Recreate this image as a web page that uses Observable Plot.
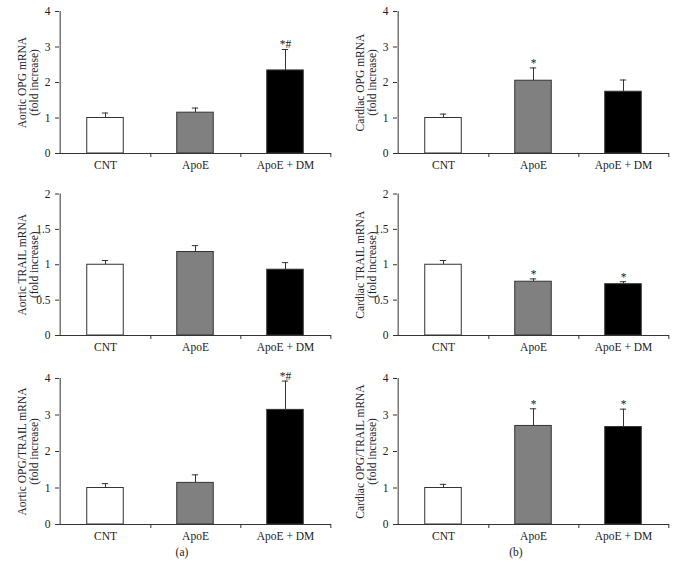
<!DOCTYPE html>
<html>
<head>
<meta charset="utf-8">
<script src="https://cdn.jsdelivr.net/npm/d3@7"></script>
<script src="https://cdn.jsdelivr.net/npm/@observablehq/plot@0.6"></script>
<style>
  body { margin: 0; background: #fff; }
  #wrap { position: relative; width: 676px; height: 580px; font-family: "Liberation Serif", "Times New Roman", serif; }
  #wrap > div.panel { position: absolute; }
  .cap { position: absolute; font-size: 11.5px; color: #222; transform: translateX(-50%); }
</style>
</head>
<body>
<div id="wrap"></div>
<script>
// ---- data ----
const categories = ["CNT", "ApoE", "ApoE + DM"];
const groupFill = ["#ffffff", "#808080", "#000000"];

const aorticOPG = [1.00, 1.15, 2.34];
const aorticOPGErr = [0.14, 0.13, 0.59];
const aorticOPGSig = ["", "", "*#"];

const cardiacOPG = [1.00, 2.05, 1.74];
const cardiacOPGErr = [0.11, 0.36, 0.33];
const cardiacOPGSig = ["", "*", ""];

const aorticTRAIL = [1.00, 1.18, 0.93];
const aorticTRAILErr = [0.06, 0.09, 0.10];
const aorticTRAILSig = ["", "", ""];

const cardiacTRAIL = [1.00, 0.76, 0.725];
const cardiacTRAILErr = [0.06, 0.04, 0.035];
const cardiacTRAILSig = ["", "*", "*"];

const aorticRatio = [1.00, 1.14, 3.14];
const aorticRatioErr = [0.12, 0.22, 0.79];
const aorticRatioSig = ["", "", "*#"];

const cardiacRatio = [1.00, 2.70, 2.67];
const cardiacRatioErr = [0.10, 0.47, 0.49];
const cardiacRatioSig = ["", "*", "*"];

const ticks4 = [0, 1, 2, 3, 4];
const ticks2 = [0, 0.5, 1, 1.5, 2];

// ---- panel builder ----
function panel({values, errs, sig, domain, ticks, label, left, top, height, mt, mb}) {
  const width = 338, ml = 59, mr = 7;
  const bw = (width - ml - mr) / categories.length;
  const frameH = height - mt - mb;
  const barInset = bw * 0.295;
  const capInset = bw / 2 - 3.5;
  const ink = "#333";
  const fs = 11.5;
  const rows = categories.map((c, i) => ({
    cat: c, v: values[i], top: values[i] + errs[i], sig: sig[i], fill: groupFill[i]
  }));
  const chart = Plot.plot({
    width, height,
    marginLeft: ml, marginRight: mr, marginTop: mt, marginBottom: mb,
    style: {fontFamily: "'Liberation Serif', 'Times New Roman', serif", fontSize: fs + "px", color: "#222", background: "white"},
    x: {domain: categories, padding: 0},
    y: {domain},
    marks: [
      // error bars (upper only)
      Plot.ruleX(rows, {x: "cat", y1: "v", y2: "top", stroke: ink, strokeWidth: 1}),
      Plot.tickY(rows, {x: "cat", y: "top", stroke: ink, strokeWidth: 1, insetLeft: capInset, insetRight: capInset}),
      // bars
      Plot.barY(rows, {x: "cat", y: "v", fill: "fill", stroke: ink, strokeWidth: 1, insetLeft: barInset, insetRight: barInset}),
      // significance marks
      Plot.text(rows.filter(d => d.sig), {x: "cat", y: "top", text: "sig", lineAnchor: "bottom", dy: -1, fontSize: fs, fill: "#222"}),
      // axes lines
      Plot.ruleY([0], {stroke: ink}),
      Plot.ruleX(categories.slice(0, 1), {x: d => d, dx: -bw / 2, stroke: ink}),
      Plot.ruleX(categories, {x: d => d, dx: bw / 2, insetTop: frameH, insetBottom: -4, stroke: ink}),
      Plot.axisY({ticks, tickFormat: d => String(d), tickSize: 4, tickPadding: 5, label: null, stroke: ink, fontSize: fs}),
      Plot.axisX({tickSize: 0, tickPadding: 7, label: null, fontSize: fs}),
      // y label (two lines)
      Plot.text([label], {frameAnchor: "left", textAnchor: "middle", lineAnchor: "middle", rotate: -90, dx: -31, lineHeight: 1.0, fontSize: fs, fill: "#222"})
    ]
  });
  const div = document.createElement("div");
  div.className = "panel";
  div.style.left = left + "px";
  div.style.top = top + "px";
  div.appendChild(chart);
  document.getElementById("wrap").appendChild(div);
  return chart;
}

const L = 0, R = 338;
panel({values: aorticOPG, errs: aorticOPGErr, sig: aorticOPGSig, domain: [0, 4], ticks: ticks4,
  label: "Aortic OPG mRNA\n(fold increase)", left: L, top: 0, height: 180, mt: 11, mb: 27});
panel({values: cardiacOPG, errs: cardiacOPGErr, sig: cardiacOPGSig, domain: [0, 4], ticks: ticks4,
  label: "Cardiac OPG mRNA\n(fold increase)", left: R, top: 0, height: 180, mt: 11, mb: 27});
panel({values: aorticTRAIL, errs: aorticTRAILErr, sig: aorticTRAILSig, domain: [0, 2], ticks: ticks2,
  label: "Aortic TRAIL mRNA\n(fold increase)", left: L, top: 182, height: 180, mt: 11.5, mb: 27});
panel({values: cardiacTRAIL, errs: cardiacTRAILErr, sig: cardiacTRAILSig, domain: [0, 2], ticks: ticks2,
  label: "Cardiac TRAIL mRNA\n(fold increase)", left: R, top: 182, height: 180, mt: 11.5, mb: 27});
panel({values: aorticRatio, errs: aorticRatioErr, sig: aorticRatioSig, domain: [0, 4], ticks: ticks4,
  label: "Aortic OPG/TRAIL mRNA\n(fold increase)", left: L, top: 367, height: 185, mt: 11, mb: 28});
panel({values: cardiacRatio, errs: cardiacRatioErr, sig: cardiacRatioSig, domain: [0, 4], ticks: ticks4,
  label: "Cardiac OPG/TRAIL mRNA\n(fold increase)", left: R, top: 367, height: 185, mt: 11, mb: 28});

const wrap = document.getElementById("wrap");
[["(a)", 182], ["(b)", 516]].forEach(([t, x]) => {
  const c = document.createElement("div");
  c.className = "cap";
  c.textContent = t;
  c.style.left = x + "px";
  c.style.top = "546px";
  wrap.appendChild(c);
});
</script>
</body>
</html>
